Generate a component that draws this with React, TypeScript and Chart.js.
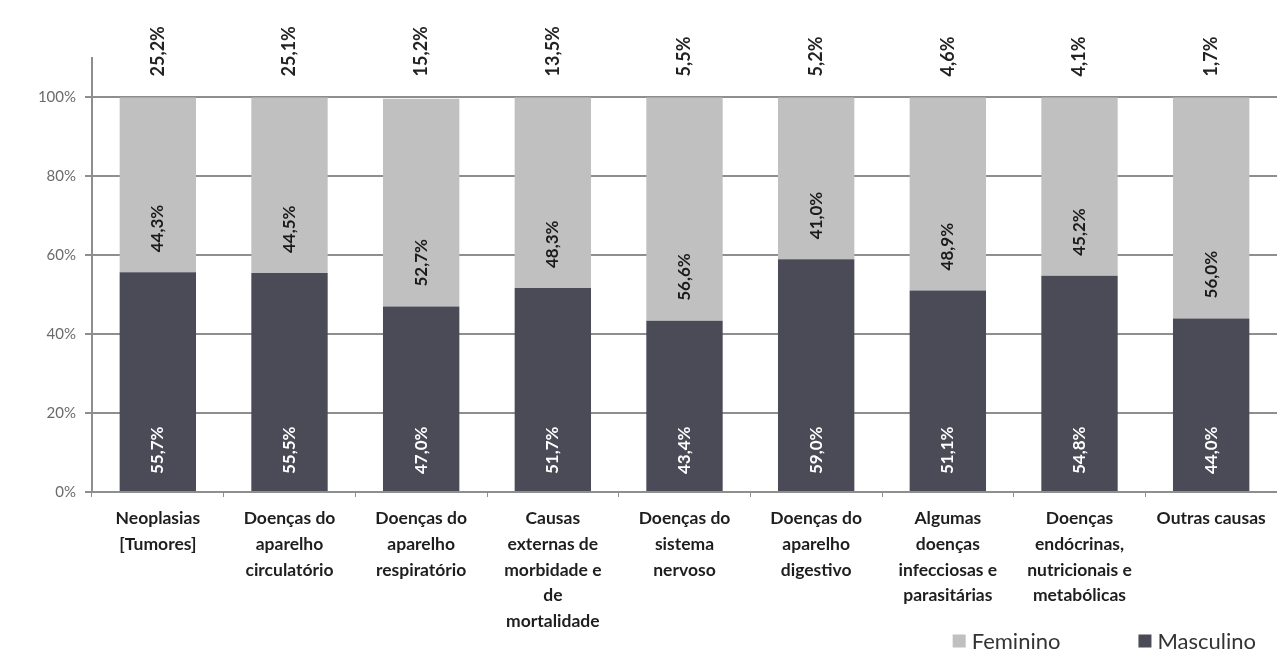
import React, { useEffect, useRef } from "react";
import { Chart, registerables } from "chart.js";

Chart.register(...registerables);

const categories: string[][] = [
  ["Neoplasias", "[Tumores]"],
  ["Doenças do", "aparelho", "circulatório"],
  ["Doenças do", "aparelho", "respiratório"],
  ["Causas", "externas de", "morbidade e", "de", "mortalidade"],
  ["Doenças do", "sistema", "nervoso"],
  ["Doenças do", "aparelho", "digestivo"],
  ["Algumas", "doenças", "infecciosas e", "parasitárias"],
  ["Doenças", "endócrinas,", "nutricionais e", "metabólicas"],
  ["Outras causas"],
];

const masculino: number[] = [55.7, 55.5, 47.0, 51.7, 43.4, 59.0, 51.1, 54.8, 44.0];
const feminino: number[] = [44.3, 44.5, 52.7, 48.3, 56.6, 41.0, 48.9, 45.2, 56.0];
const participacao: number[] = [25.2, 25.1, 15.2, 13.5, 5.5, 5.2, 4.6, 4.1, 1.7];
const yTicks: number[] = [0, 20, 40, 60, 80, 100];

const FONT = "Lato, 'Noto Sans', sans-serif";
const DARK = "#4a4b57";
const LIGHT = "#c0c0c0";
const GRID = "#8e8e8e";

const fmt = (v: number) => v.toFixed(1).replace(".", ",") + "%";

const labelsPlugin = {
  id: "barLabels",
  afterDatasetsDraw(chart: any) {
    const ctx = chart.ctx;
    ctx.save();
    chart.data.datasets.forEach((ds: any, di: number) => {
      const meta = chart.getDatasetMeta(di);
      meta.data.forEach((bar: any, i: number) => {
        const v = ds.data[i];
        ctx.save();
        ctx.translate(bar.x, bar.base - (di === 0 ? 17 : 20));
        ctx.rotate(-Math.PI / 2);
        ctx.textAlign = "left";
        ctx.textBaseline = "middle";
        ctx.font = `bold 17px ${FONT}`;
        ctx.fillStyle = di === 0 ? "#ffffff" : "#1a1a1a";
        ctx.fillText(fmt(v), 0, 0);
        ctx.restore();
      });
    });
    // totals above the bars
    const y100 = chart.scales.y.getPixelForValue(100);
    const meta0 = chart.getDatasetMeta(0);
    meta0.data.forEach((bar: any, i: number) => {
      ctx.save();
      ctx.translate(bar.x, y100 - 21);
      ctx.rotate(-Math.PI / 2);
      ctx.textAlign = "left";
      ctx.textBaseline = "middle";
      ctx.font = `bold 18px ${FONT}`;
      ctx.fillStyle = "#222222";
      ctx.fillText(fmt(participacao[i]), 0, 0);
      ctx.restore();
    });
    ctx.restore();
  },
  afterDraw(chart: any) {
    const ctx = chart.ctx;
    ctx.save();
    ctx.font = `22px ${FONT}`;
    ctx.textBaseline = "middle";
    ctx.textAlign = "left";
    const items = [...chart.data.datasets].reverse();
    const box = 13;
    const gapText = 6;
    const gapItem = 78;
    const widths = items.map((d: any) => box + gapText + ctx.measureText(d.label).width);
    const total = widths.reduce((a: number, b: number) => a + b, 0) + gapItem * (items.length - 1);
    let x = 1256 - total;
    const y = 641;
    items.forEach((d: any, i: number) => {
      ctx.fillStyle = d.backgroundColor;
      ctx.fillRect(x, y - box / 2, box, box);
      ctx.fillStyle = "#333333";
      ctx.fillText(d.label, x + box + gapText, y + 1);
      x += widths[i] + gapItem;
    });
    ctx.restore();
  },
};

export default function App() {
  const ref = useRef<HTMLCanvasElement | null>(null);
  useEffect(() => {
    if (!ref.current) return;
    const chart = new Chart(ref.current, {
      type: "bar",
      data: {
        labels: categories,
        datasets: [
          { label: "Masculino", data: masculino, backgroundColor: DARK, borderWidth: 0 },
          { label: "Feminino", data: feminino, backgroundColor: LIGHT, borderWidth: 0 },
        ],
      },
      options: {
        animation: false,
        responsive: true,
        maintainAspectRatio: false,
        layout: { padding: { top: 58, right: 0, bottom: 0, left: 0 } },
        plugins: { legend: { display: false }, tooltip: { enabled: false } },
        datasets: { bar: { categoryPercentage: 1, barPercentage: 0.58 } },
        scales: {
          x: {
            stacked: true,
            afterFit: (s: any) => { s.height = 158; },
            grid: {
              offset: true,
              drawOnChartArea: false,
              drawTicks: true,
              tickLength: 5,
              color: GRID,
            },
            border: { color: GRID, width: 2 },
            ticks: {
              padding: 9,
              color: "#1e1e1e",
              maxRotation: 0,
              autoSkip: false,
              font: { family: FONT, size: 17.5, weight: "bold", lineHeight: 1.46 },
            },
          },
          y: {
            stacked: true,
            min: 0,
            max: 110,
            afterFit: (s: any) => { s.width = 92; },
            afterBuildTicks: (s: any) => {
              s.ticks = yTicks.map((v) => ({ value: v }));
            },
            grid: { color: GRID, lineWidth: 2, tickLength: 7 },
            border: { color: GRID, width: 2 },
            ticks: {
              padding: 9,
              color: "#6a6a6a",
              font: { family: FONT, size: 15 },
              callback: (v: any) => v + "%",
            },
          },
        },
      },
      plugins: [labelsPlugin],
    } as any);
    return () => chart.destroy();
  }, []);
  return (
    <div style={{ position: "fixed", left: 0, top: 0, width: 1277, height: 650, background: "#fff" }}>
      <canvas ref={ref} />
    </div>
  );
}
